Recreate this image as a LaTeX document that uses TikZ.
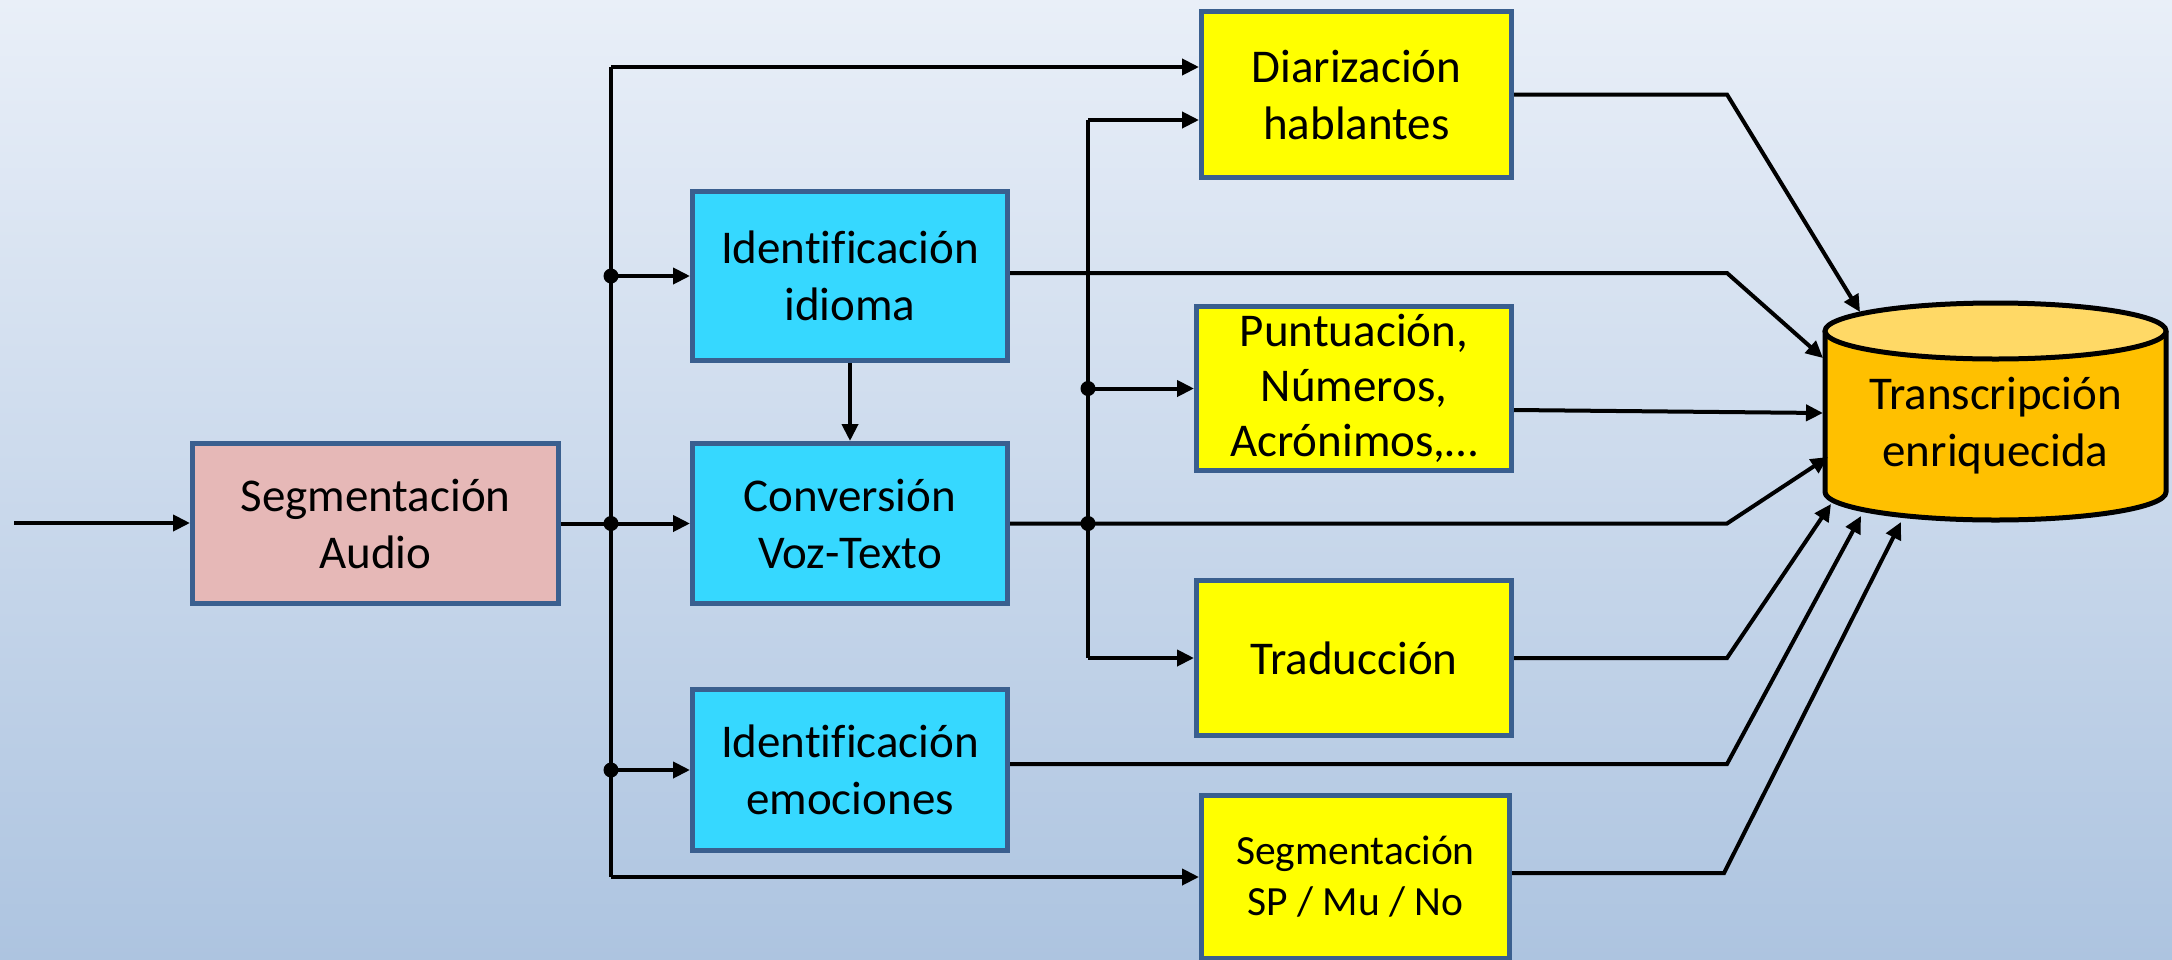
\documentclass[tikz,border=0pt]{standalone}
\usepackage{fontspec}
\setmainfont{Carlito}[Ligatures=NoCommon]
\usetikzlibrary{arrows.meta,calc}
\definecolor{bgtop}{RGB}{233,239,248}
\definecolor{bgbot}{RGB}{173,196,224}
\definecolor{boxborder}{RGB}{58,95,143}
\definecolor{pinkfill}{RGB}{230,184,183}
\definecolor{cyanfill}{RGB}{54,216,255}
\definecolor{yellowfill}{RGB}{255,255,0}
\definecolor{cylbody}{RGB}{255,192,0}
\definecolor{cyltop}{RGB}{255,217,102}
\tikzset{
  procbox/.style={draw=boxborder, line width=5pt, inner sep=0pt, align=center,
    font=\fontsize{47}{57}\selectfont},
  pinkbox/.style={procbox, fill=pinkfill},
  cyanbox/.style={procbox, fill=cyanfill},
  yellowbox/.style={procbox, fill=yellowfill},
  conn/.style={draw=black, line width=4pt},
  arr/.style={conn, -{Triangle[length=17pt,width=16pt]}},
  jdot/.style={fill=black}
}
\begin{document}
\begin{tikzpicture}[x=1pt,y=-1pt]
\useasboundingbox (0,0) rectangle (2172,959);
\shade[top color=bgtop,bottom color=bgbot] (0,0) rectangle (2172,959);

% boxes
\node[pinkbox, minimum width=366pt, minimum height=160pt] (seg) at (375.5,523.5) {Segmentación\\Audio};
\node[cyanbox, minimum width=315pt, minimum height=169pt] (idi) at (850,276) {Identificación\\idioma};
\node[cyanbox, minimum width=315pt, minimum height=160pt] (conv) at (850,523.5) {Conversión\\Voz-Texto};
\node[cyanbox, minimum width=315pt, minimum height=161pt] (emo) at (850,770) {Identificación\\emociones};
\node[yellowbox, minimum width=310pt, minimum height=166pt] (diar) at (1356.5,94.5) {Diarización\\hablantes};
\node[yellowbox, minimum width=315pt, minimum height=164pt, font=\fontsize{47}{55}\selectfont] (punt) at (1354,388.5) {Puntuación,\\Números,\\Acrónimos,…};
\node[yellowbox, minimum width=315pt, minimum height=155pt] (trad) at (1354,658) {Traducción};
\node[yellowbox, minimum width=308pt, minimum height=163pt, font=\fontsize{41.5}{51}\selectfont] (sp) at (1355.5,877) {Segmentación\\SP / Mu / No};

% cylinder
\draw[line width=5pt, fill=cylbody] (1825,331) -- (1825,492)
  arc[start angle=180, end angle=360, x radius=170.5pt, y radius=28pt] -- (2166,331);
\draw[line width=5pt, fill=cyltop] (1995.5,331) ellipse[x radius=170.5pt, y radius=28pt];
\node[align=center, font=\fontsize{47}{57}\selectfont, inner sep=0pt] (db) at (1995.5,426) {Transcripción\\enriquecida};

% coordinates
\coordinate (in) at (14,523);
\coordinate (b1top) at (611,67);
\coordinate (b1bot) at (611,877);
\coordinate (b2top) at (1088,120);
\coordinate (b2bot) at (1088,658);
\coordinate (kx) at (1727,0);
\coordinate (e1) at (1860,312);
\coordinate (e2) at (1823,358);
\coordinate (e3) at (1823,413);
\coordinate (e4) at (1828,457);
\coordinate (e5) at (1831,504);
\coordinate (e6) at (1861,516);
\coordinate (e7) at (1901,522);

% input and first bus
\draw[arr] (in) -- (seg.west |- in);
\draw[conn] (b1top) -- (b1bot);
\draw[arr] (seg.east) -- (conv.west);
\draw[arr] (b1top) -- (b1top -| diar.west);
\draw[arr] (b1top |- idi.west) -- (idi.west);
\draw[arr] (b1top |- emo.west) -- (emo.west);
\draw[arr] (b1bot) -- (b1bot -| sp.west);
\fill[jdot] (b1top |- idi.west) circle[radius=7.5pt];
\fill[jdot] (b1top |- conv.west) circle[radius=7.5pt];
\fill[jdot] (b1top |- emo.west) circle[radius=7.5pt];
\draw[arr] (idi.south) -- (conv.north);

% second bus
\draw[conn] (b2top) -- (b2bot);
\draw[arr] (b2top) -- (b2top -| diar.west);
\draw[arr] (b2top |- punt.west) -- (punt.west);
\draw[arr] (b2bot) -- (b2bot -| trad.west);
\fill[jdot] (b2top |- punt.west) circle[radius=7.5pt];
\fill[jdot] (b2top |- conv.east) circle[radius=7.5pt];

% to the cylinder
\draw[arr] (diar.east) -- (diar.east -| kx) -- (e1);
\draw[arr] ($(idi.east)+(0,-3)$) -- ($(idi.east -| kx)+(0,-3)$) -- (e2);
\draw[arr] ($(punt.east)+(0,21.5)$) -- (e3);
\draw[arr] (conv.east) -- (conv.east -| kx) -- (e4);
\draw[arr] (trad.east) -- (trad.east -| kx) -- (e5);
\draw[arr] ($(emo.east)+(0,-6)$) -- ($(emo.east -| kx)+(0,-6)$) -- (e6);
\draw[arr] ($(sp.east)+(0,-4)$) -- ($(sp.east -| kx)+(-3,-4)$) -- (e7);
\end{tikzpicture}
\end{document}
